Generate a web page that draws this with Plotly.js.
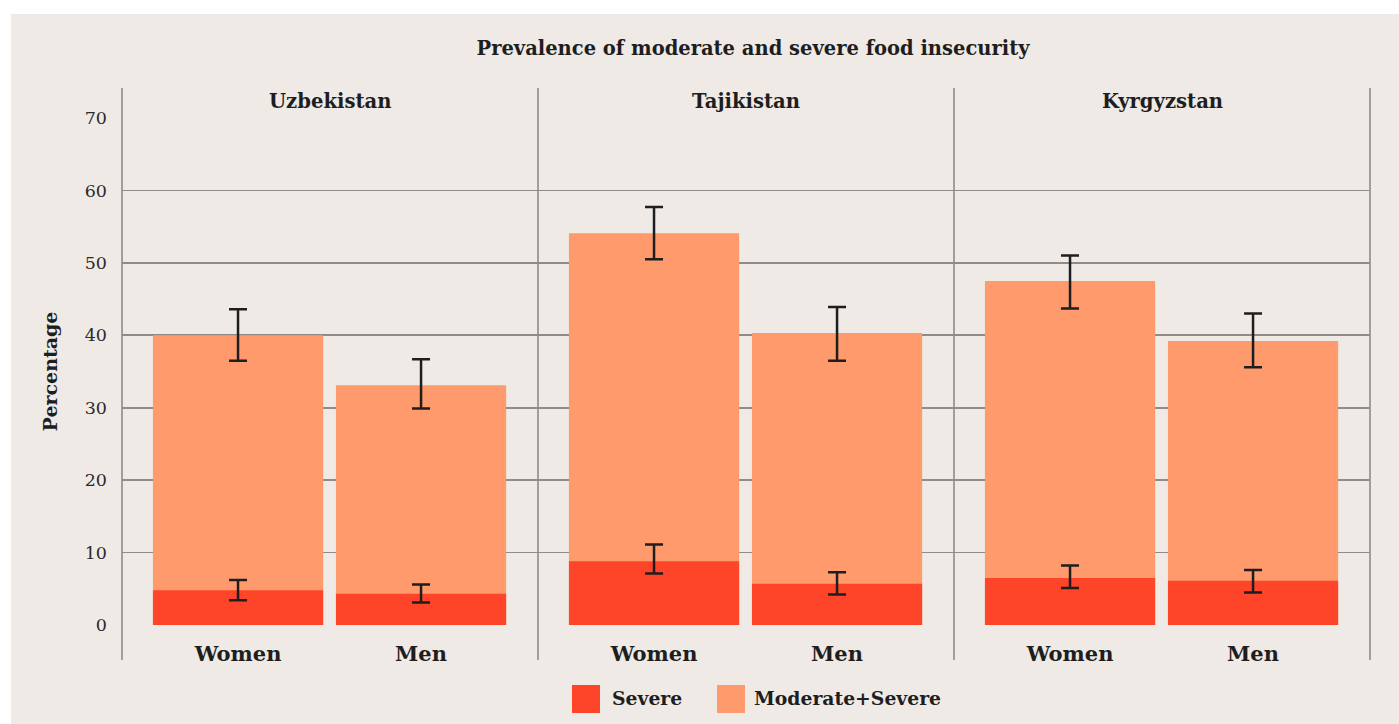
<!DOCTYPE html>
<html>
<head>
<meta charset="utf-8">
<script src="https://cdn.plot.ly/plotly-3.0.1.min.js"></script>
<style>html,body{margin:0;padding:0;background:#fff;}</style>
</head>
<body>
<div id="chart" style="width:1399px;height:724px;"></div>
<script>
// ---- data ----
const countries = ["Uzbekistan", "Tajikistan", "Kyrgyzstan"];
const genders = ["Women", "Men"];
const modSevere = [[40.0, 33.1], [54.1, 40.3], [47.5, 39.2]];
const modSevereLow = [[36.5, 29.9], [50.5, 36.5], [43.7, 35.6]];
const modSevereHigh = [[43.6, 36.7], [57.7, 43.9], [51.0, 43.0]];
const severe = [[4.8, 4.3], [8.8, 5.7], [6.5, 6.1]];
const severeLow = [[3.4, 3.1], [7.1, 4.2], [5.1, 4.5]];
const severeHigh = [[6.2, 5.6], [11.1, 7.3], [8.2, 7.6]];
const seriesNames = ["Severe", "Moderate+Severe"];
const yTicks = [0, 10, 20, 30, 40, 50, 60, 70];

// ---- style ----
const C_SEV = "#FF4529";
const C_MOD = "#FF9A6C";
const BG = "#EFEAE6";
const GRID = "#8E8B88";
const TXT = "#1E1E1E";
const FONT = "DejaVu Serif, Liberation Serif, serif";

// plot area pixel geometry
const L = 122, R = 1370, T = 118, B = 625;
const px2x = p => (p - L) / (R - L);
const px2y = p => (B - p) / (B - T);

const traces = [];
const errStyle = {type: "data", symmetric: false, color: "#1E1E1E", thickness: 2.5, width: 9};
countries.forEach((c, i) => {
  const xa = i === 0 ? "x" : "x" + (i + 1);
  traces.push({
    type: "bar", x: genders, y: modSevere[i], xaxis: xa, yaxis: "y",
    name: seriesNames[1], showlegend: false, width: 0.93,
    marker: {color: C_MOD, opacity: 1, line: {width: 0}},
    error_y: Object.assign({}, errStyle, {
      array: modSevereHigh[i].map((h, k) => h - modSevere[i][k]),
      arrayminus: modSevere[i].map((v, k) => v - modSevereLow[i][k])
    }),
    hoverinfo: "y"
  });
  traces.push({
    type: "bar", x: genders, y: severe[i], xaxis: xa, yaxis: "y",
    name: seriesNames[0], showlegend: false, width: 0.93,
    marker: {color: C_SEV, opacity: 1, line: {width: 0}},
    error_y: Object.assign({}, errStyle, {
      array: severeHigh[i].map((h, k) => h - severe[i][k]),
      arrayminus: severe[i].map((v, k) => v - severeLow[i][k])
    }),
    hoverinfo: "y"
  });
});

const xCommon = {
  type: "category", range: [-0.634, 1.639], showgrid: false, zeroline: false,
  showline: false, ticks: "", ticklabelstandoff: 14,
  tickfont: {family: FONT, size: 21, color: TXT, weight: "bold"}, fixedrange: true
};

const shapes = [];
// background panel
shapes.push({type: "rect", xref: "paper", yref: "paper", layer: "below",
  x0: px2x(11), x1: px2x(1405), y0: px2y(730), y1: px2y(14),
  fillcolor: BG, line: {width: 0}});
// facet dividers
[0, 1/3, 2/3, 1].forEach(xp => {
  shapes.push({type: "line", xref: "paper", yref: "paper", layer: "below",
    x0: xp, x1: xp, y0: px2y(660), y1: px2y(88),
    line: {color: GRID, width: 1.6}});
});
// legend swatches
const legendItems = [
  {name: seriesNames[0], color: C_SEV, x0: 572, tx: 610},
  {name: seriesNames[1], color: C_MOD, x0: 717, tx: 752}
];
const annotations = [];
legendItems.forEach(it => {
  shapes.push({type: "rect", xref: "paper", yref: "paper",
    x0: px2x(it.x0), x1: px2x(it.x0 + 28), y0: px2y(713), y1: px2y(685),
    fillcolor: it.color, line: {width: 0}});
  annotations.push({xref: "paper", yref: "paper", x: px2x(it.tx), y: px2y(698),
    xanchor: "left", yanchor: "middle", showarrow: false, text: it.name,
    font: {family: FONT, size: 18.8, color: TXT, weight: "bold"}});
});
// facet strip labels
countries.forEach((c, i) => {
  annotations.push({xref: "paper", yref: "paper", x: (i + 0.5) / 3, y: px2y(101),
    xanchor: "center", yanchor: "middle", showarrow: false, text: c,
    font: {family: FONT, size: 19.6, color: TXT, weight: "bold"}});
});

const layout = {
  width: 1399, height: 724, autosize: false,
  margin: {l: L, r: 1399 - R, t: T, b: 724 - B, pad: 0},
  paper_bgcolor: "#FFFFFF", plot_bgcolor: "rgba(0,0,0,0)",
  showlegend: false, barmode: "overlay",
  title: {text: "Prevalence of moderate and severe food insecurity",
    x: px2x(753), xref: "paper", xanchor: "center",
    y: 1 - 48 / 724, yref: "container", yanchor: "middle",
    font: {family: FONT, size: 19.5, color: TXT, weight: "bold"}},
  xaxis: Object.assign({}, xCommon, {domain: [0, 1/3], anchor: "y"}),
  xaxis2: Object.assign({}, xCommon, {domain: [1/3, 2/3], anchor: "y"}),
  xaxis3: Object.assign({}, xCommon, {domain: [2/3, 1], anchor: "y"}),
  yaxis: {
    range: [0, 70], tickvals: yTicks, ticktext: yTicks.map(String),
    showgrid: true, gridcolor: GRID, gridwidth: 1.6, zeroline: false,
    showline: false, ticks: "", ticklabelstandoff: 14,
    tickfont: {family: FONT, size: 17.5, color: "#2A2A2A"},
    title: {text: "Percentage", standoff: 22,
      font: {family: FONT, size: 19, color: TXT, weight: "bold"}},
    fixedrange: true
  },
  shapes: shapes,
  annotations: annotations
};

Plotly.newPlot("chart", traces, layout, {displayModeBar: false, staticPlot: true});
</script>
</body>
</html>
